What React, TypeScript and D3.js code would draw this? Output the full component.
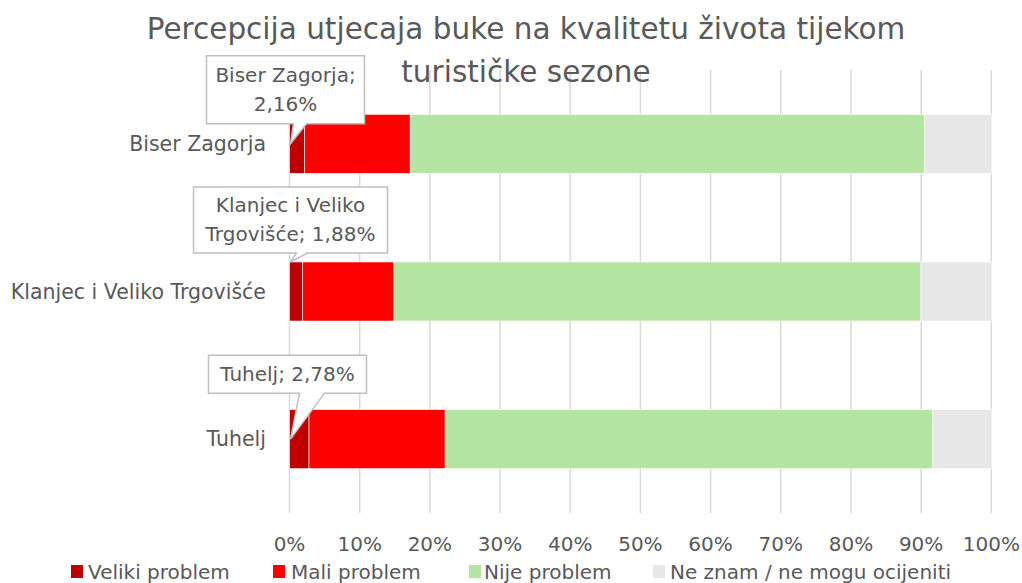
import React from "react";
import * as d3 from "d3";

const categories = ["Biser Zagorja", "Klanjec i Veliko Trgovišće", "Tuhelj"];
const seriesNames = ["Veliki problem", "Mali problem", "Nije problem", "Ne znam / ne mogu ocijeniti"];
const veliki = [2.16, 1.88, 2.78];
const mali = [15.04, 13.0, 19.4];
const nije = [73.3, 75.1, 69.5];
const neZnam = [9.5, 10.02, 8.32];
const colors = ["#C00000", "#FF0000", "#B4E5A2", "#E7E7E7"];
const ticks = [0, 10, 20, 30, 40, 50, 60, 70, 80, 90, 100];
const calloutLines = [["Biser Zagorja;", "2,16%"], ["Klanjec i Veliko", "Trgovišće; 1,88%"], ["Tuhelj; 2,78%"]];

const W = 1022, H = 583;
const FONT = "'DejaVu Sans', sans-serif";
const TXT = "#595959";

export default function App() {
  const x = d3.scaleLinear().domain([0, 100]).range([289.5, 991.3]);
  const y = d3.scaleBand().domain(categories).range([70, 513]).paddingInner(0.6).paddingOuter(0.3);
  const rows = categories.map((c, i) => ({ cat: c, vals: [veliki[i], mali[i], nije[i], neZnam[i]] }));
  const stackData = rows.map(r => {
    let acc = 0;
    return r.vals.map(v => { const s = acc; acc += v; return [s, acc]; });
  });

  const callouts = [
    { bw: 158, bh: 68, dx: -84, dyTop: -88, tipY: 0.5, base: [3, 16] },
    { bw: 194, bh: 66, dx: -97, dyTop: -75, tipY: 0, base: [6, 17] },
    { bw: 158, bh: 38, dx: -82, dyTop: -84, tipY: 0.5, base: [9, 34] },
  ];

  const legendItems = [
    { mx: 71, tx: 88 },
    { mx: 273, tx: 291 },
    { mx: 469, tx: 484 },
    { mx: 653, tx: 670 },
  ];

  return (
    <svg width={W} height={H} style={{ display: "block", position: "absolute", left: 0, top: 0 }} fontFamily={FONT}>
      <rect width={W} height={H} fill="#fff" />
      {ticks.map(t => (
        <line key={t} x1={x(t)} x2={x(t)} y1={70} y2={513} stroke="#D9D9D9" strokeWidth={1.5} />
      ))}
      <text x={526} y={39} textAnchor="middle" fontSize={29.5} fill={TXT}>Percepcija utjecaja buke na kvalitetu života tijekom</text>
      <text x={526} y={82} textAnchor="middle" fontSize={29.5} fill={TXT}>turističke sezone</text>
      {rows.map((r, i) => (
        <g key={r.cat}>
          {stackData[i].map(([a, b], j) => (
            <rect key={j} x={x(a)} y={y(r.cat)!} width={x(b) - x(a)} height={y.bandwidth()} fill={colors[j]} stroke="#fff" strokeWidth={0.6} />
          ))}
          <text x={266} y={y(r.cat)! + y.bandwidth() / 2} textAnchor="end" dominantBaseline="central" fontSize={20.5} fill={TXT}>{r.cat}</text>
        </g>
      ))}
      {ticks.map(t => (
        <text key={t} x={x(t)} y={551} textAnchor="middle" fontSize={20} fill={TXT}>{t}%</text>
      ))}
      {rows.map((r, i) => {
        const c = callouts[i];
        const tipX = x(0) + 1;
        const tipY = y(r.cat)! + y.bandwidth() * c.tipY;
        const bx = tipX + c.dx;
        const by = tipY + c.dyTop;
        const bb = by + c.bh;
        const p = `M${bx},${by} H${bx + c.bw} V${bb} H${tipX + c.base[1]} L${tipX},${tipY} L${tipX + c.base[0]},${bb} H${bx} Z`;
        const lines = calloutLines[i];
        const lh = 29;
        const startY = by + c.bh / 2 - ((lines.length - 1) * lh) / 2;
        return (
          <g key={"c" + i}>
            <path d={p} fill="#fff" stroke="#BFBFBF" strokeWidth={1.5} />
            {lines.map((l, k) => (
              <text key={k} x={bx + c.bw / 2} y={startY + k * lh} textAnchor="middle" dominantBaseline="central" fontSize={20} fill={TXT}>{l}</text>
            ))}
          </g>
        );
      })}
      {seriesNames.map((s, i) => (
        <g key={s}>
          <rect x={legendItems[i].mx} y={565} width={12} height={13} fill={colors[i]} />
          <text x={legendItems[i].tx} y={579} fontSize={20} fill={TXT}>{s}</text>
        </g>
      ))}
    </svg>
  );
}
